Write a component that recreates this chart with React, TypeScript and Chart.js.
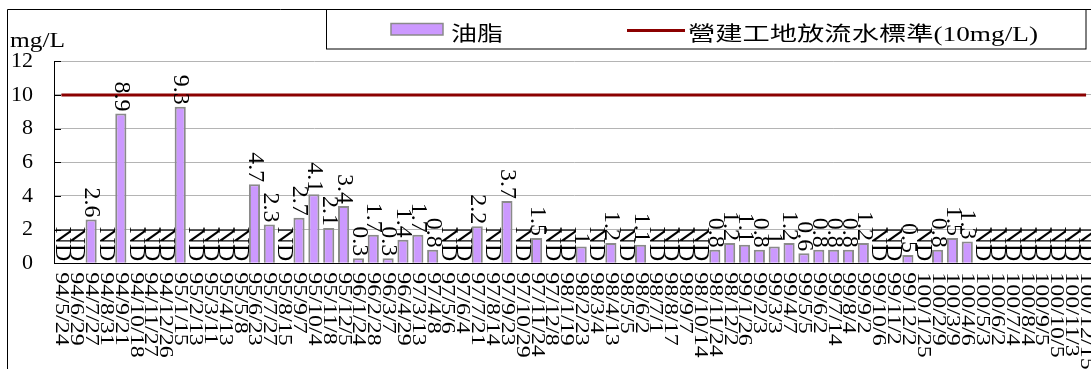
import React, { useEffect, useRef } from "react";
import { Chart, registerables } from "chart.js";

Chart.register(...registerables);

// ---- data ----
const categories: string[] = [
  "94/5/24", "94/6/29", "94/7/27", "94/8/31", "94/9/21", "94/10/18", "94/11/27", "94/12/26",
  "95/1/15", "95/2/13", "95/3/11", "95/4/13", "95/5/8", "95/6/23", "95/7/27", "95/8/15", "95/9/7", "95/10/4", "95/11/8", "95/12/5",
  "96/1/24", "96/2/28", "96/3/7", "96/4/29",
  "97/3/13", "97/4/8", "97/5/6", "97/6/4", "97/7/21", "97/8/14", "97/9/23", "97/10/29", "97/11/24", "97/12/8",
  "98/1/19", "98/2/23", "98/3/4", "98/4/13", "98/5/5", "98/6/2", "98/7/1", "98/8/17", "98/9/7", "98/10/14", "98/11/24", "98/12/2",
  "99/1/26", "99/2/3", "99/3/3", "99/4/7", "99/5/5", "99/6/2", "99/7/14", "99/8/4", "99/9/2", "99/10/6", "99/11/2", "99/12/2",
  "100/1/25", "100/2/9", "100/3/9", "100/4/6", "100/5/3", "100/6/2", "100/7/4", "100/8/4", "100/9/5", "100/10/5", "100/11/3", "100/12/15",
];

// null = not detected (ND)
const oilValues: (number | null)[] = [
  null, null, 2.6, null, 8.9, null, null, null,
  9.3, null, null, null, null, 4.7, 2.3, null, 2.7, 4.1, 2.1, 3.4,
  0.3, 1.7, 0.3, 1.4,
  1.7, 0.8, null, null, 2.2, null, 3.7, null, 1.5, null,
  null, 1, null, 1.2, null, 1.1, null, null, null, null, 0.8, 1.2,
  1.1, 0.8, 1, 1.2, 0.6, 0.8, 0.8, 0.8, 1.2, null, null, 0.5,
  null, 0.8, 1.5, 1.3, null, null, null, null, null, null, null, null,
];

const standardValues: number[] = [
  10, 10, 10, 10, 10, 10, 10, 10,
  10, 10, 10, 10, 10, 10, 10, 10, 10, 10, 10, 10,
  10, 10, 10, 10,
  10, 10, 10, 10, 10, 10, 10, 10, 10, 10,
  10, 10, 10, 10, 10, 10, 10, 10, 10, 10, 10, 10,
  10, 10, 10, 10, 10, 10, 10, 10, 10, 10, 10, 10,
  10, 10, 10, 10, 10, 10, 10, 10, 10, 10, 10, 10,
];

const yMin = 0;
const yMax = 12;
const yStep = 2;
const ndText = "ND";
const unitText = "mg/L";
const oilName = "油脂";
const standardName = "營建工地放流水標準(10mg/L)";

const BAR_FILL = "#CC99FF";
const BAR_BORDER = "#8a8a8a";
const LINE_COLOR = "#8B0000";
const SERIF = '"Liberation Serif", "Times New Roman", serif';
const MIXED = '"Liberation Serif", "Noto Sans CJK TC", serif';

function rotatedText(
  ctx: CanvasRenderingContext2D,
  text: string,
  x: number,
  y: number,
  font: string,
  sx: number,
  alignEnd: boolean
) {
  ctx.save();
  ctx.translate(x, y);
  ctx.scale(sx, 1);
  ctx.rotate(Math.PI / 2);
  ctx.font = font;
  ctx.textAlign = alignEnd ? "right" : "left";
  ctx.textBaseline = "middle";
  ctx.fillStyle = "#000";
  ctx.fillText(text, 0, 0);
  ctx.restore();
}

function fittedText(
  ctx: CanvasRenderingContext2D,
  text: string,
  x: number,
  baseline: number,
  font: string,
  width: number
) {
  ctx.save();
  ctx.font = font;
  const w = ctx.measureText(text).width || 1;
  ctx.translate(x, baseline);
  ctx.scale(width / w, 1);
  ctx.textAlign = "left";
  ctx.textBaseline = "alphabetic";
  ctx.fillStyle = "#000";
  ctx.fillText(text, 0, 0);
  ctx.restore();
}

const overlayPlugin = {
  id: "overlay",
  afterDatasetsDraw(chart: any) {
    const ctx: CanvasRenderingContext2D = chart.ctx;
    const xs = chart.scales.x;
    const ys = chart.scales.y;
    const area = chart.chartArea;

    // inside tick marks on the value axis
    ctx.save();
    ctx.strokeStyle = "#000";
    ctx.lineWidth = 1;
    for (let v = yMin; v <= yMax; v += yStep) {
      const py = Math.round(ys.getPixelForValue(v)) + 0.5;
      ctx.beginPath();
      ctx.moveTo(area.left, py);
      ctx.lineTo(area.left + 7, py);
      ctx.stroke();
    }
    ctx.restore();

    // data labels (rotated, reading top to bottom)
    const font = `24px ${SERIF}`;
    oilValues.forEach((v, i) => {
      const px = xs.getPixelForValue(i);
      if (v === null) {
        rotatedText(ctx, ndText, px, ys.getPixelForValue(0) - 2, font, 0.92, true);
      } else {
        rotatedText(ctx, String(v), px, ys.getPixelForValue(v) - 2, font, 0.92, true);
      }
    });

    // category labels under the axis
    categories.forEach((c, i) => {
      const px = xs.getPixelForValue(i);
      rotatedText(ctx, c, px, area.bottom + 9, font, 0.8, false);
    });
  },
  afterDraw(chart: any) {
    const ctx: CanvasRenderingContext2D = chart.ctx;
    ctx.save();
    // outer frame (left and top edges visible)
    ctx.strokeStyle = "#000";
    ctx.lineWidth = 1;
    ctx.beginPath();
    ctx.moveTo(7.5, chart.height);
    ctx.lineTo(7.5, 9.5);
    ctx.lineTo(chart.width, 9.5);
    ctx.stroke();

    // legend box
    ctx.strokeRect(326.5, 9.5, 1086 - 326.5, 49 - 9.5);

    // legend: bar swatch
    const barDs = chart.data.datasets[1];
    ctx.fillStyle = barDs.backgroundColor;
    ctx.fillRect(391, 23.5, 52, 11.5);
    ctx.strokeStyle = barDs.borderColor;
    ctx.lineWidth = 1.5;
    ctx.strokeRect(391, 23.5, 52, 11.5);
    fittedText(ctx, barDs.label, 451, 40.5, `20px ${MIXED}`, 52);

    // legend: line swatch
    const lineDs = chart.data.datasets[0];
    ctx.strokeStyle = lineDs.borderColor;
    ctx.lineWidth = 3;
    ctx.beginPath();
    ctx.moveTo(627, 30.5);
    ctx.lineTo(685, 30.5);
    ctx.stroke();
    fittedText(ctx, lineDs.label, 688, 40.5, `20px ${MIXED}`, 350);

    // unit
    fittedText(ctx, unitText, 10, 46.5, `20px ${SERIF}`, 55);
    ctx.restore();
  },
};

export default function App() {
  const ref = useRef<HTMLCanvasElement | null>(null);

  useEffect(() => {
    if (!ref.current) return;
    const chart = new Chart(ref.current, {
      type: "bar",
      data: {
        labels: categories,
        datasets: [
          {
            type: "line",
            label: standardName,
            data: standardValues,
            borderColor: LINE_COLOR,
            backgroundColor: LINE_COLOR,
            borderWidth: 3,
            pointRadius: 0,
            fill: false,
            order: 0,
          } as any,
          {
            type: "bar",
            label: oilName,
            data: oilValues,
            backgroundColor: BAR_FILL,
            borderColor: BAR_BORDER,
            borderWidth: 2,
            barPercentage: 0.75,
            categoryPercentage: 1,
            order: 1,
          },
        ],
      },
      options: {
        responsive: false,
        animation: false,
        layout: { padding: { top: 61.3, bottom: 105.7, left: 0, right: 6.5 } },
        plugins: {
          legend: { display: false },
          tooltip: { enabled: false },
          title: { display: false },
        },
        scales: {
          x: {
            offset: true,
            grid: { display: false },
            border: { display: true, color: "#000", width: 1 },
            ticks: { display: false },
            afterFit: (s: any) => {
              s.height = 0;
            },
          },
          y: {
            min: yMin,
            max: yMax,
            ticks: {
              stepSize: yStep,
              color: "#000",
              padding: 21,
              font: { family: SERIF, size: 22 },
            },
            grid: { color: "#b4b4b4", lineWidth: 1, drawTicks: false },
            border: { display: true, color: "#000", width: 1 },
            afterFit: (s: any) => {
              s.width = 54;
            },
          },
        },
      },
      plugins: [overlayPlugin],
    });
    return () => chart.destroy();
  }, []);

  return (
    <div
      style={{
        position: "absolute",
        left: 0,
        top: 0,
        width: 1091,
        height: 369,
        overflow: "hidden",
        background: "#fff",
      }}
    >
      <canvas ref={ref} width={1100} height={369} style={{ display: "block", width: 1100, height: 369 }} />
    </div>
  );
}
